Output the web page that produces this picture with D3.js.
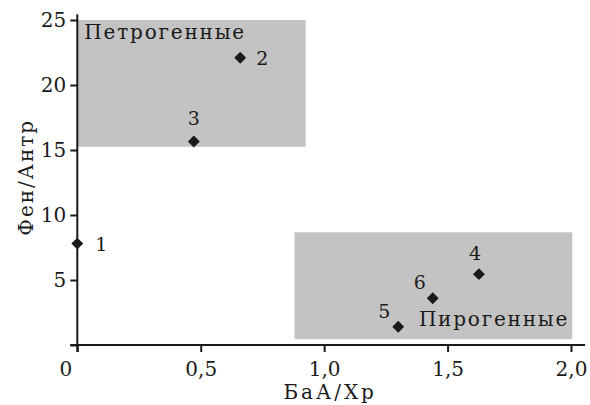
<!DOCTYPE html>
<html>
<head>
<meta charset="utf-8">
<script src="https://cdn.jsdelivr.net/npm/d3@7"></script>
<style>
  body { margin: 0; background: #fff; }
  svg { font-family: "DejaVu Serif", serif; }
</style>
</head>
<body>
<svg width="590" height="405"></svg>
<script>
// data
var pointIds = ["1", "2", "3", "4", "5", "6"];
var baaXp = [0.0, 0.66, 0.472, 1.627, 1.30, 1.44];
var fenAntr = [7.8, 22.1, 15.65, 5.45, 1.4, 3.6];
var zoneNames = ["Петрогенные", "Пирогенные"];
var zoneX = [[0, 0.925], [0.88, 2.005]];
var zoneY = [[15.25, 25], [0.45, 8.67]];
var xTicks = [0, 0.5, 1.0, 1.5, 2.0];
var xTickLabels = ["0", "0,5", "1,0", "1,5", "2,0"];
var yTicks = [0, 5, 10, 15, 20, 25];
var yTickLabels = ["", "5", "10", "15", "20", "25"];

var svg = d3.select("svg"),
  width = +svg.attr("width"),
  height = +svg.attr("height");

var x = d3.scaleLinear().domain([0, 2]).range([77.3, 571]);
var y = d3.scaleLinear().domain([0, 25]).range([345, 20]);

var ink = "#1a1a1a";

// shaded zones
svg.selectAll("rect.zone").data(zoneNames)
  .enter().append("rect")
  .attr("class", "zone")
  .attr("x", (d, i) => x(zoneX[i][0]))
  .attr("width", (d, i) => x(zoneX[i][1]) - x(zoneX[i][0]))
  .attr("y", (d, i) => y(zoneY[i][1]))
  .attr("height", (d, i) => y(zoneY[i][0]) - y(zoneY[i][1]))
  .attr("fill", "#c3c3c3")

// zone labels
svg.append("text")
  .attr("x", x(0) + 7)
  .attr("y", 39)
  .attr("font-size", "20px")
  .attr("letter-spacing", "1.8px")
  .attr("fill", ink)
  .text(zoneNames[0])

svg.append("text")
  .attr("x", x(zoneX[1][1]) - 3)
  .attr("y", 326)
  .attr("text-anchor", "end")
  .attr("font-size", "20px")
  .attr("letter-spacing", "1.8px")
  .attr("fill", ink)
  .text(zoneNames[1])

// axes
var xAxis = d3.axisBottom(x)
  .tickValues(xTicks)
  .tickFormat((d, i) => xTickLabels[i])
  .tickSize(7)
  .tickSizeOuter(0)
  .tickPadding(10)

var gx = svg.append("g")
  .attr("transform", "translate(0," + y(0) + ")")
  .call(xAxis)
gx.select(".domain").remove()
// the "0" sits a bit left of its tick
gx.selectAll(".tick text").filter(d => d === 0).attr("dx", -12)

var yAxis = d3.axisLeft(y)
  .tickValues(yTicks)
  .tickFormat((d, i) => yTickLabels[i])
  .tickSize(7)
  .tickSizeOuter(0)
  .tickPadding(4)

var gy = svg.append("g")
  .attr("transform", "translate(" + x(0) + ",0)")
  .call(yAxis)
gy.select(".domain").remove()

svg.selectAll(".tick line").attr("stroke", ink).attr("stroke-width", 2)
svg.selectAll(".tick text").attr("fill", ink).attr("font-size", "20px").attr("font-family", "DejaVu Serif, serif")

// axis lines
svg.append("line")
  .attr("x1", x(0) - 7).attr("x2", x(2.057))
  .attr("y1", y(0)).attr("y2", y(0))
  .attr("stroke", ink).attr("stroke-width", 2)
svg.append("line")
  .attr("x1", x(0)).attr("x2", x(0))
  .attr("y1", y(0) + 7).attr("y2", y(25.45))
  .attr("stroke", ink).attr("stroke-width", 2)

// axis titles
svg.append("text")
  .attr("x", x(1.0) + 6)
  .attr("y", 399)
  .attr("text-anchor", "middle")
  .attr("font-size", "20px")
  .attr("letter-spacing", "3px")
  .attr("fill", ink)
  .text("БаА/Хр")

svg.append("text")
  .attr("transform", "translate(33," + y(12.9) + ") rotate(-90)")
  .attr("text-anchor", "middle")
  .attr("font-size", "20px")
  .attr("letter-spacing", "2px")
  .attr("fill", ink)
  .text("Фен/Антр")

// points
svg.selectAll("path.pt").data(pointIds)
  .enter().append("path")
  .attr("class", "pt")
  .attr("d", d3.symbol().type(d3.symbolDiamond2).size(90))
  .attr("transform", (d, i) => "translate(" + x(baaXp[i]) + "," + y(fenAntr[i]) + ")")
  .attr("fill", ink)

// point labels: offsets relative to the marker
var labelDx = [18, 16, 0, -4, -14, -13];
var labelDy = [7, 7, -17, -14, -9, -9];
var labelAnchor = ["start", "start", "middle", "middle", "middle", "middle"];

svg.selectAll("text.pl").data(pointIds)
  .enter().append("text")
  .attr("class", "pl")
  .attr("x", (d, i) => x(baaXp[i]) + labelDx[i])
  .attr("y", (d, i) => y(fenAntr[i]) + labelDy[i])
  .attr("text-anchor", (d, i) => labelAnchor[i])
  .attr("font-size", "19px")
  .attr("fill", ink)
  .text(d => d)
</script>
</body>
</html>
